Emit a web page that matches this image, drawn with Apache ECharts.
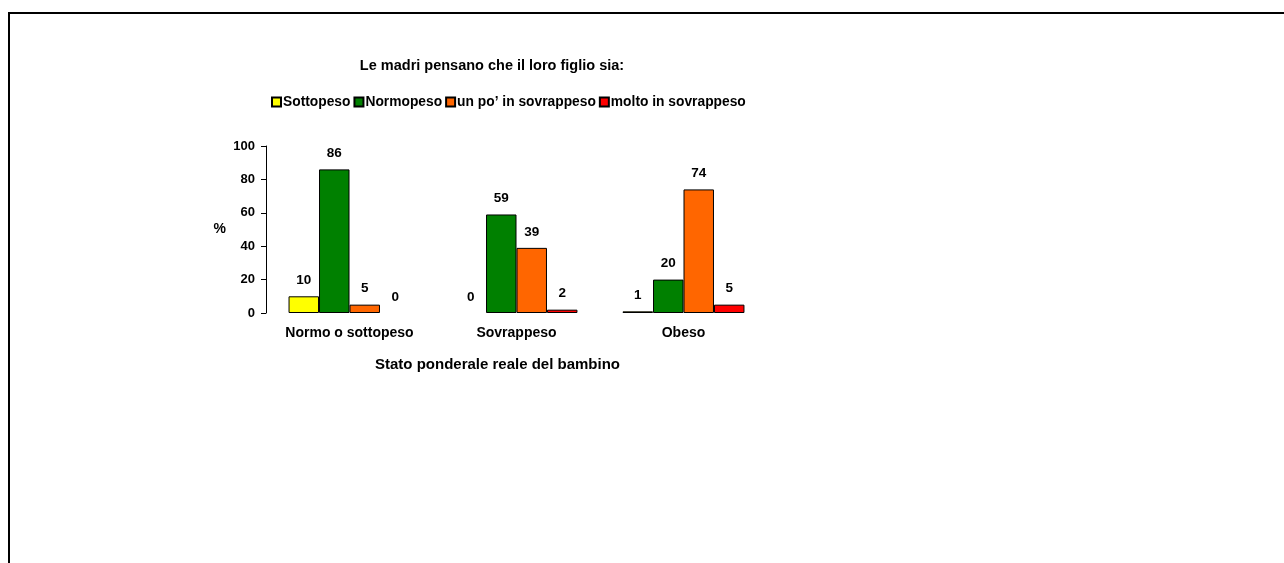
<!DOCTYPE html>
<html><head><meta charset="utf-8">
<script src="https://cdn.jsdelivr.net/npm/echarts@6/dist/echarts.min.js"></script>
<style>html,body{margin:0;padding:0;background:#fff}#c{width:1284px;height:563px}</style>
</head><body><div id="c"></div>
<script>
const categories = ['Normo o sottopeso', 'Sovrappeso', 'Obeso'];
const seriesNames = ['Sottopeso', 'Normopeso', 'un po\u2019 in sovrappeso', 'molto in sovrappeso'];
const sottopeso = [10, 0, 1];
const normopeso = [86, 59, 20];
const unPo = [5, 39, 74];
const molto = [0, 2, 5];
const yTicks = [0, 20, 40, 60, 80, 100];
const colors = ['#FFFF00', '#008000', '#FF6600', '#FF0000'];
const FONT = '"Liberation Sans", Arial, sans-serif';
const chart = echarts.init(document.getElementById('c'));
const mk = (name, data, color) => ({
  name, type: 'bar',
  data: data.map(v => v === 0 ? { value: v, itemStyle: { borderWidth: 0 } } : v),
  barGap: '0%', barCategoryGap: '27%',
  itemStyle: { color, borderColor: '#000', borderWidth: 1 },
  label: { show: true, position: 'top', distance: 9, color: '#000', fontFamily: FONT, fontWeight: 'bold', fontSize: 13.5 },
  emphasis: { disabled: true }, animation: false
});
chart.setOption({
  animation: false,
  title: { text: 'Le madri pensano che il loro figlio sia:', left: 487, top: 53, textAlign: 'center',
    textStyle: { fontFamily: FONT, fontWeight: 'bold', fontSize: 14.5, color: '#000' } },
  legend: { top: 90, left: 266, itemWidth: 9, itemHeight: 9, itemGap: 3, icon: 'rect',
    textStyle: { fontFamily: FONT, fontWeight: 'bold', fontSize: 13.8, color: '#000', padding: [0, 0, 0, -3] },
    data: seriesNames },
  grid: { left: 266, right: 517, top: 146, bottom: 250 },
  xAxis: { type: 'category', data: categories,
    axisLine: { show: false }, axisTick: { show: false },
    axisLabel: { color: '#000', fontFamily: FONT, fontWeight: 'bold', fontSize: 14, margin: 13 },
    name: 'Stato ponderale reale del bambino', nameLocation: 'middle', nameGap: 44,
    nameTextStyle: { color: '#000', fontFamily: FONT, fontWeight: 'bold', fontSize: 15, padding: [0, 38, 0, 0] } },
  yAxis: { type: 'value', min: yTicks[0], max: yTicks[yTicks.length - 1], interval: 20,
    axisLine: { show: true, lineStyle: { color: '#000' } },
    axisTick: { show: true, length: 5, lineStyle: { color: '#000' } },
    splitLine: { show: false },
    axisLabel: { color: '#000', fontFamily: FONT, fontWeight: 'bold', fontSize: 13, margin: 11 },
    name: '%', nameLocation: 'middle', nameGap: 40, nameRotate: 0,
    nameTextStyle: { color: '#000', fontFamily: FONT, fontWeight: 'bold', fontSize: 14, padding: [0, 0, 6, 0] } },
  graphic: [{ type: 'polyline', shape: { points: [[9, 563], [9, 13], [1284, 13]] },
    style: { stroke: '#000', lineWidth: 2, fill: null } }],
  series: [mk(seriesNames[0], sottopeso, colors[0]), mk(seriesNames[1], normopeso, colors[1]),
           mk(seriesNames[2], unPo, colors[2]), mk(seriesNames[3], molto, colors[3])]
});
</script></body></html>
